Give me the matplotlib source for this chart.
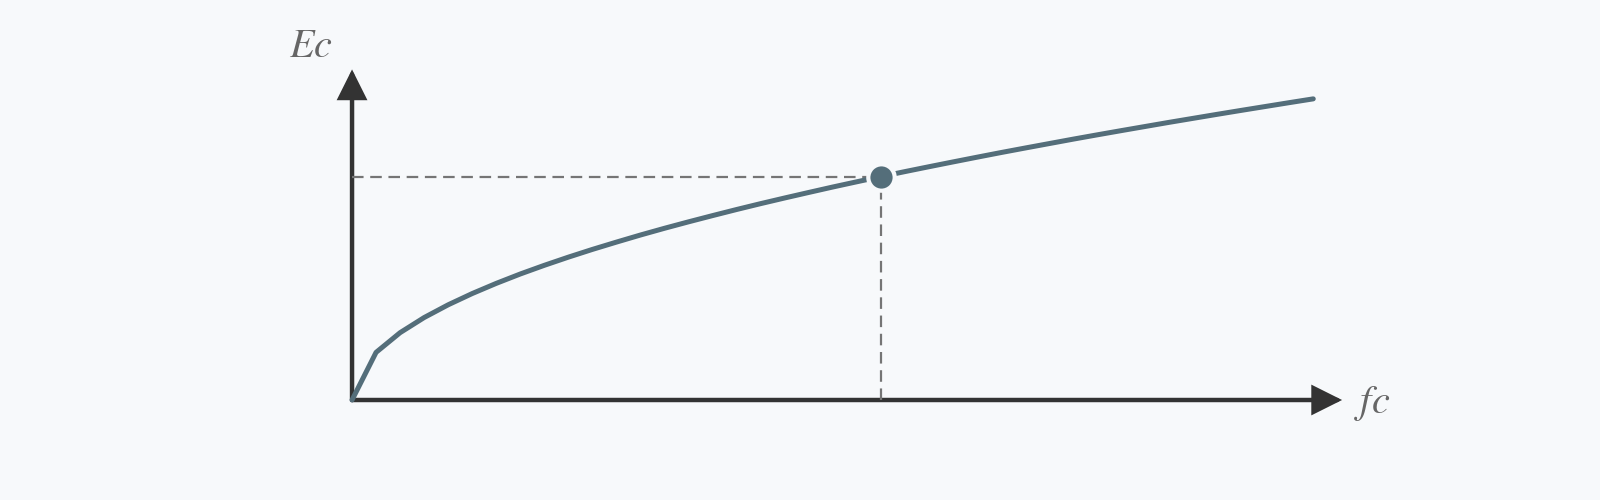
import matplotlib
matplotlib.use("Agg")
import matplotlib.pyplot as plt

# Data (compressive strength vs. elastic modulus)
fc = [0, 2, 4, 6, 8, 10, 12, 14, 16, 18, 20, 22, 24, 26, 28, 30, 32, 34, 36, 38, 40,
      42, 44, 46, 48, 50, 52, 54, 56, 58, 60, 62, 64, 66, 68, 70, 72, 74, 76, 78, 80]
Ec = [0.0, 6.65, 9.40, 11.51, 13.29, 14.86, 16.28, 17.59, 18.80, 19.94, 21.02,
      22.04, 23.03, 23.97, 24.87, 25.74, 26.59, 27.41, 28.20, 28.97, 29.73,
      30.46, 31.18, 31.88, 32.56, 33.23, 33.89, 34.54, 35.17, 35.79, 36.41,
      37.01, 37.60, 38.18, 38.76, 39.32, 39.88, 40.43, 40.97, 41.51, 42.04]
point_fc = 44
point_Ec = 31.18
x_axis_end = 82.4
y_axis_end = 46.15
x_label = r"$fc$"
y_label = r"$Ec$"

bg = "#f7f9fb"
axis_col = "#333333"
curve_col = "#546e7a"
dash_col = "#757575"
text_col = "#666666"

plt.rcParams["mathtext.fontset"] = "stix"

S = 1600 / 1568.0
ox, oy = 345 * S, 392 * S        # origin in pixels (from top-left)
kx, ky = 11.775 * S, 7.02 * S     # pixels per data unit

fig = plt.figure(figsize=(16, 5), dpi=100, facecolor=bg)
ax = fig.add_axes([0, 0, 1, 1])
ax.set_facecolor(bg)
ax.set_xlim(-ox / kx, (1600 - ox) / kx)
ax.set_ylim(-(500 - oy) / ky, oy / ky)
ax.axis("off")

# axes with arrows
arrow_kw = dict(arrowstyle="-|>,head_length=1.0,head_width=0.5", mutation_scale=17,
                color=axis_col, lw=3.2, shrinkA=0, shrinkB=0, joinstyle="miter")
ax.annotate("", xy=(x_axis_end, 0), xytext=(0, 0), arrowprops=arrow_kw, zorder=2)
ax.annotate("", xy=(0, y_axis_end), xytext=(0, 0), arrowprops=arrow_kw, zorder=2)

# dashed guide lines
ax.plot([0, point_fc], [point_Ec, point_Ec], ls=(0, (5.2, 3.0)), color=dash_col, lw=1.6, zorder=3)
ax.plot([point_fc, point_fc], [0, point_Ec], ls=(0, (5.2, 3.0)), color=dash_col, lw=1.6, zorder=3)

# curve
ax.plot(fc, Ec, color=curve_col, lw=3.6, solid_capstyle="round", solid_joinstyle="round", zorder=4)

# highlighted point
ax.plot([point_fc], [point_Ec], "o", ms=19, mfc=curve_col, mec=bg, mew=3.0, zorder=5)

# labels
ax.text(-40 / 11.775, 347 / 7.02, y_label, fontsize=29, color=text_col,
        ha="center", va="center")
ax.text(1000 / 11.775, -3 / 7.02, x_label, fontsize=29, color=text_col,
        ha="center", va="center")

fig.savefig("out.png", dpi=100, facecolor=bg)
